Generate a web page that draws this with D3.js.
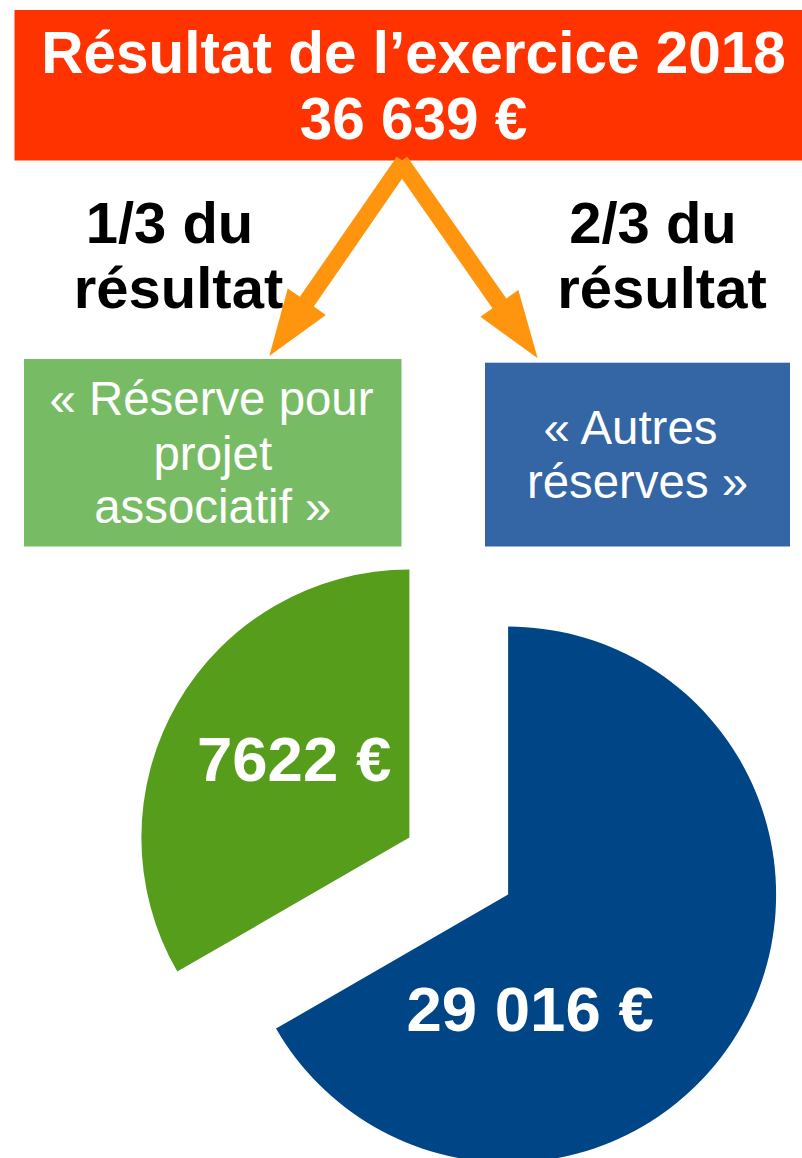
<!DOCTYPE html>
<html>
<head>
<meta charset="utf-8">
<script src="https://cdn.jsdelivr.net/npm/d3@7"></script>
<style>
  html, body { margin: 0; padding: 0; background: #fff; }
  svg { display: block; font-family: "Liberation Sans", Arial, sans-serif; }
</style>
</head>
<body>
<svg id="chart" width="802" height="1158"></svg>
<script>
// ---- data ----
const titleLines = ["Résultat de l’exercice 2018", "36 639 €"];
const categories = ["Réserve pour projet associatif", "Autres réserves"];
const boxLines = [["« Réserve pour", "projet", "associatif »"], ["« Autres", "réserves »"]];
const shareLines = [["1/3 du", "résultat"], ["2/3 du", "résultat"]];
const shareNumerator = [1, 2];
const shareDenominator = [3, 3];
const amounts = [7622, 29016];
const amountLabels = ["7622 €", "29 016 €"];

// ---- styles / layout ----
const W = 802, H = 1158;
const colors = { title: "#FF3300", arrow: "#FF950E", boxes: ["#77BC65", "#3465A4"], slices: ["#579D1C", "#004586"] };
const svg = d3.select("#chart");
svg.append("rect").attr("width", W).attr("height", H).attr("fill", "#fff");

// title box
svg.append("rect").attr("x", 14.5).attr("y", 10).attr("width", 800).attr("height", 150.5).attr("fill", colors.title);
const titleBase = [72.7, 139.3];
titleLines.forEach((t, i) => {
  svg.append("text").attr("x", 413.5).attr("y", titleBase[i])
    .attr("text-anchor", "middle").attr("fill", "#fff")
    .attr("font-weight", "bold").attr("font-size", 58.5).text(t);
});

// share headings
const shareX = [[169.5, 178.5], [653, 662]];
const shareBase = [243.3, 308];
shareLines.forEach((lines, i) => {
  lines.forEach((t, j) => {
    svg.append("text").attr("x", shareX[i][j]).attr("y", shareBase[j])
      .attr("text-anchor", "middle").attr("fill", "#000")
      .attr("font-weight", "bold").attr("font-size", 58).text(t);
  });
});

// category boxes
const boxRects = [{x: 24, y: 359, w: 377.5, h: 187.5}, {x: 485, y: 362.7, w: 305, h: 183.8}];
const boxTextX = [[211.5, 212.8, 212.8], [630.5, 637.5]];
const boxBase = [[415, 469.5, 523.3], [444.3, 498.3]];
boxRects.forEach((b, i) => {
  svg.append("rect").attr("x", b.x).attr("y", b.y).attr("width", b.w).attr("height", b.h).attr("fill", colors.boxes[i]);
  boxLines[i].forEach((t, j) => {
    svg.append("text").attr("x", boxTextX[i][j]).attr("y", boxBase[i][j])
      .attr("text-anchor", "middle").attr("fill", "#fff")
      .attr("font-size", 47.4).text(t);
  });
});

// arrows
function arrowPath(S, T, shaftHalf, headLen, headHalf) {
  const dx = T[0] - S[0], dy = T[1] - S[1];
  const L = Math.hypot(dx, dy);
  const u = [dx / L, dy / L];
  const n = [-u[1], u[0]];
  const M = [T[0] - headLen * u[0], T[1] - headLen * u[1]];
  const p = (P, k) => [P[0] + k * n[0], P[1] + k * n[1]];
  const pts = [p(S, shaftHalf), p(M, shaftHalf), p(M, headHalf), T, p(M, -headHalf), p(M, -shaftHalf), p(S, -shaftHalf)];
  return d3.line()(pts) + "Z";
}
const arrows = [
  { S: [403.7, 161.5], T: [269.3, 356], headLen: 66 },
  { S: [400.3, 161.5], T: [537.7, 358.3], headLen: 67 }
];
arrows.forEach(a => {
  svg.append("path").attr("d", arrowPath(a.S, a.T, 8.5, a.headLen, 23.2)).attr("fill", colors.arrow);
});

// exploded pie
const shares = shareNumerator.map((n, i) => ({ cat: categories[i], value: n / shareDenominator[i], amount: amounts[i], label: amountLabels[i], i }));
const pie = d3.pie().sort(null).value(d => d.value)
  .startAngle(-2 * Math.PI / 3).endAngle(4 * Math.PI / 3);
const R = 268;
const arc = d3.arc().innerRadius(0).outerRadius(R);
const center = [458.75, 866.1];
const explode = 57;
const labelOffsets = [[-115.3, -56.4], [22, 136.6]];
const g = svg.append("g");
pie(shares).forEach(d => {
  const mid = (d.startAngle + d.endAngle) / 2;
  const cx = center[0] + explode * Math.sin(mid);
  const cy = center[1] - explode * Math.cos(mid);
  const sg = g.append("g").attr("transform", `translate(${cx},${cy})`);
  sg.append("path").attr("d", arc(d)).attr("fill", colors.slices[d.data.i]);
  sg.append("text").attr("x", labelOffsets[d.data.i][0]).attr("y", labelOffsets[d.data.i][1])
    .attr("text-anchor", "middle").attr("fill", "#fff")
    .attr("font-weight", "bold").attr("font-size", 63.5).text(d.data.label);
});
</script>
</body>
</html>
